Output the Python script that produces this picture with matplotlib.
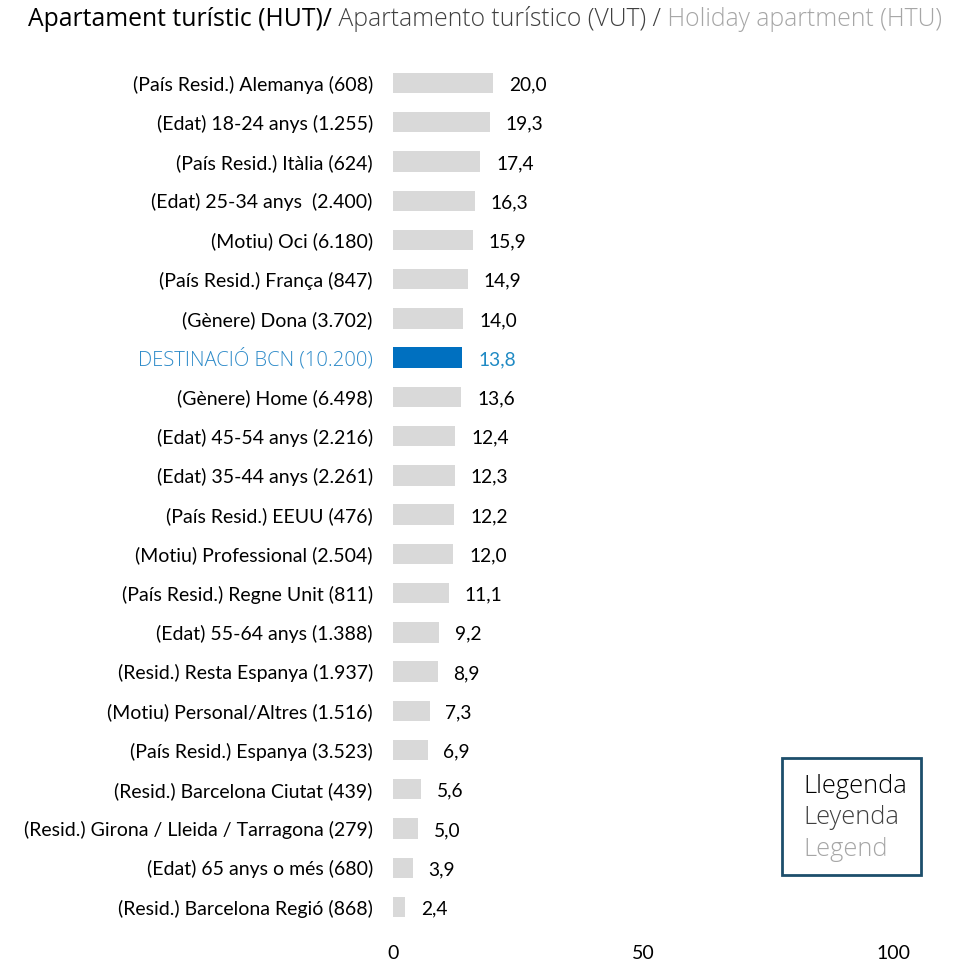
import matplotlib.pyplot as plt
from matplotlib.patches import Rectangle

# data, top to bottom
labels = [
    "(País Resid.) Alemanya (608)",
    "(Edat) 18-24 anys (1.255)",
    "(País Resid.) Itàlia (624)",
    "(Edat) 25-34 anys  (2.400)",
    "(Motiu) Oci (6.180)",
    "(País Resid.) França (847)",
    "(Gènere) Dona (3.702)",
    "DESTINACIÓ BCN (10.200)",
    "(Gènere) Home (6.498)",
    "(Edat) 45-54 anys (2.216)",
    "(Edat) 35-44 anys (2.261)",
    "(País Resid.) EEUU (476)",
    "(Motiu) Professional (2.504)",
    "(País Resid.) Regne Unit (811)",
    "(Edat) 55-64 anys (1.388)",
    "(Resid.) Resta Espanya (1.937)",
    "(Motiu) Personal/Altres (1.516)",
    "(País Resid.) Espanya (3.523)",
    "(Resid.) Barcelona Ciutat (439)",
    "(Resid.) Girona / Lleida / Tarragona (279)",
    "(Edat) 65 anys o més (680)",
    "(Resid.) Barcelona Regió (868)",
]
values = [20.0, 19.3, 17.4, 16.3, 15.9, 14.9, 14.0, 13.8, 13.6, 12.4, 12.3,
          12.2, 12.0, 11.1, 9.2, 8.9, 7.3, 6.9, 5.6, 5.0, 3.9, 2.4]
highlight = "DESTINACIÓ BCN (10.200)"
x_ticks = [0, 50, 100]

plt.rcParams['font.family'] = ['Lato', 'DejaVu Sans']

fig = plt.figure(figsize=(9.67, 9.63), dpi=100)
ax = fig.add_axes([393 / 967, 1 - 926.6 / 963, 500 / 967, (926.6 - 63.4) / 963])

ypos = list(range(len(labels)))
colors = ['#0070c0' if l == highlight else '#d9d9d9' for l in labels]
ax.barh(ypos, values, height=0.52, color=colors)

for y, v, l in zip(ypos, values, labels):
    c = '#1f8ac4' if l == highlight else 'black'
    ax.text(v + 3.2, y + 0.05, f"{v:.1f}".replace('.', ','), va='center',
            ha='left', fontsize=13.8, color=c)

ax.set_yticks(ypos)
ax.set_yticklabels(labels, fontsize=14)
for t in ax.get_yticklabels():
    if t.get_text() == highlight:
        t.set_color('#2e8bc9')
        t.set_family(['Open Sans', 'DejaVu Sans'])
        t.set_fontweight('light')
        t.set_fontsize(14.6)
ax.tick_params(axis='y', length=0, pad=14.5)
ax.set_ylim(len(labels) - 0.5, -0.5)

ax.set_xlim(0, 100)
ax.set_xticks(x_ticks)
ax.set_xticklabels([str(t) for t in x_ticks], fontsize=14)
ax.tick_params(axis='x', length=0, pad=13)
for s in ax.spines.values():
    s.set_visible(False)

# title in three colours
parts = [("Apartament turístic (HUT)/", '#000000', 'normal'),
         (" Apartamento turístico (VUT) /", '#404040', 'light'),
         (" Holiday apartment (HTU)", '#a6a6a6', 'light')]
x0 = 28 / 967
renderer = fig.canvas.get_renderer()
for txt, col, w in parts:
    t = fig.text(x0, 1 - 19 / 963, txt, fontsize=17.8, color=col, va='center',
                 ha='left', fontweight=w, family=['Open Sans', 'DejaVu Sans'])
    bb = t.get_window_extent(renderer)
    x0 += bb.width / fig.bbox.width

# legend box
fig.patches.append(Rectangle((782 / 967, 1 - 875 / 963), 139 / 967, 117 / 963,
                             transform=fig.transFigure, fill=False,
                             edgecolor='#1d4e6b', linewidth=2))
for i, (txt, col) in enumerate([("Llegenda", '#000000'), ("Leyenda", '#404040'),
                                ("Legend", '#a6a6a6')]):
    fig.text(803 / 967, 1 - (786 + i * 31.5) / 963, txt, fontsize=18.3, color=col,
             va='center', ha='left', fontweight='light',
             family=['Open Sans', 'DejaVu Sans'])

fig.savefig('out.png', dpi=100)
